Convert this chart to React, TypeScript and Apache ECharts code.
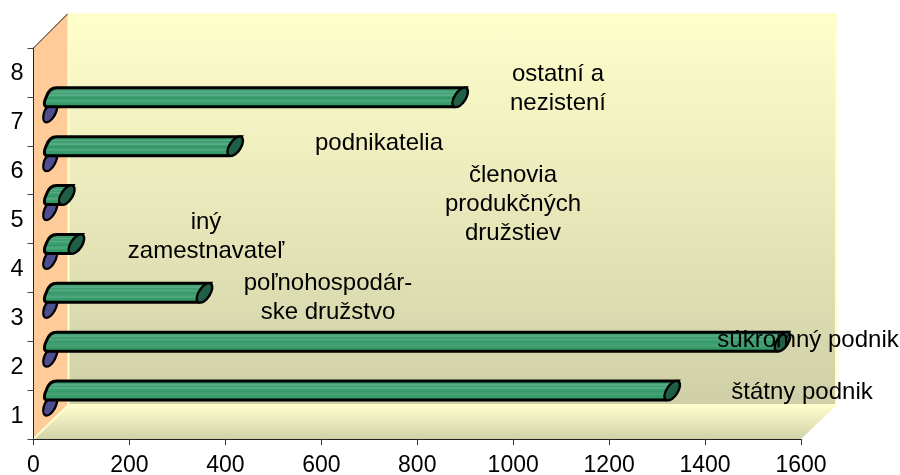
import React, { useEffect, useRef } from "react";
import * as echarts from "echarts";

const categories = ["1", "2", "3", "4", "5", "6", "7", "8"];
const values = [1295, 1525, 320, 53, 33, 384, 853];
const xMin = 0;
const xMax = 1600;
const xStep = 200;
const noteTexts = [
  "štátny podnik",
  "súkromný podnik",
  "poľnohospodár-\nske družstvo",
  "iný\nzamestnavateľ",
  "členovia\nprodukčných\ndružstiev",
  "podnikatelia",
  "ostatní a\nnezistení",
];
const notePositions = [
  [802, 390],
  [808, 338],
  [328, 296],
  [206, 235],
  [513, 202],
  [379, 141],
  [558, 87],
];

const FONT = '"Liberation Sans", Arial, sans-serif';
const G = { left: 33.5, right: 801, top: 48, bottom: 439 };
const D = { x: 34, y: 35 };

const stripes = (() => {
  const seq = ["#339966", "#3f9f72", "#55ab83", "#3f9f72", "#55ab83", "#3f9f72", "#339966", "#3f9f72", "#4ba57b", "#399c6c", "#339966", "#2f8f60"];
  const stops: any[] = [];
  seq.forEach((c, i) => {
    stops.push({ offset: i / seq.length, color: c });
    stops.push({ offset: (i + 1) / seq.length, color: c });
  });
  return new echarts.graphic.LinearGradient(0, 0, 0, 1, stops);
})();

function renderBar(_: any, api: any) {
  const v = api.value(0);
  const idx = api.value(1);
  const [x0, yb] = api.coord([0, idx]);
  const xe = api.coord([v, idx])[0] + 17.5;
  const yc = yb - 24;
  const top = yc - 9.5;
  const bot = yc + 9.5;
  const lb = x0 + 11;
  const lt = x0 + 22;
  const capT = xe + 6;
  const capB = xe - 6;
  const body = `M ${capB} ${bot} L ${lb + 3} ${bot} C ${lb - 1} ${bot} ${lb - 1} ${yc + 5} ${lb + 2} ${yc - 1} C ${lb + 4} ${top + 3} ${lt - 3} ${top} ${lt + 1} ${top} L ${capT} ${top} Z`;
  const cap = `M ${capB} ${bot} C ${capB + 7} ${bot + 3} ${capT + 6} ${yc - 5} ${capT} ${top} C ${capT - 7} ${top - 2} ${capB - 6} ${yc + 5} ${capB} ${bot} Z`;
  const tx = x0;
  const tail = `M ${tx + 24} ${yb - 15} C ${tx + 23} ${yb - 6} ${tx + 17} ${yb + 1} ${tx + 13} ${yb + 1} C ${tx + 8} ${yb + 1} ${tx + 9} ${yb - 9} ${tx + 14} ${yb - 15} Z`;
  return {
    type: "group",
    children: [
      { type: "path", shape: { pathData: tail }, style: { fill: "#4d4d8f", stroke: "#000", lineWidth: 2.2 } },
      { type: "path", shape: { pathData: body }, style: { fill: stripes, stroke: "#000", lineWidth: 3 } },
      { type: "path", shape: { pathData: cap }, style: { fill: "#1f5f45", stroke: "#000", lineWidth: 2.4 } },
    ],
  };
}

export default function App() {
  const ref = useRef<HTMLDivElement>(null);
  useEffect(() => {
    const chart = echarts.init(ref.current!, null, { renderer: "svg" });
    const wallFill = new echarts.graphic.LinearGradient(0, 0, 0, 1, [
      { offset: 0, color: "#ffffcc" },
      { offset: 1, color: "#d0d0a8" },
    ]);
    const floorFill = new echarts.graphic.LinearGradient(0, 0, 0, 1, [
      { offset: 0, color: "#ffffcc" },
      { offset: 1, color: "#d2d2aa" },
    ]);
    const bx = G.left + D.x;
    const bxr = G.right + D.x;
    const ty = G.top - D.y;
    const by = G.bottom - D.y;
    const walls: any[] = [
      { type: "rect", z: -1, silent: true, shape: { x: bx, y: ty, width: bxr + 2 - bx, height: by - ty + 1 }, style: { fill: "#ffffcc" } },
      { type: "rect", z: -1, silent: true, shape: { x: bx + 2, y: ty, width: bxr - bx - 2, height: by - ty }, style: { fill: wallFill } },
      { type: "polygon", z: -1, silent: true, shape: { points: [[G.left, G.bottom], [bx + 2, by + 1], [bxr + 2, by + 1], [G.right, G.bottom]] }, style: { fill: floorFill } },
      { type: "polygon", z: -1, silent: true, shape: { points: [[G.left, G.top], [bx, ty], [bx, by + 1], [G.left, G.bottom]] }, style: { fill: "#ffcc99" } },
      { type: "line", z: -1, silent: true, shape: { x1: G.left, y1: G.bottom, x2: bx + 1, y2: by + 1 }, style: { stroke: "#ffffcc", lineWidth: 2 } },
      { type: "line", z: 1, silent: true, shape: { x1: G.left, y1: G.top, x2: bx, y2: ty + 1 }, style: { stroke: "#222", lineWidth: 1 } },
    ];
    const notes = noteTexts.map((t, i) => ({
      type: "text",
      z: 100,
      silent: true,
      x: notePositions[i][0],
      y: notePositions[i][1],
      style: {
        text: t,
        fill: "#000",
        font: `24px ${FONT}`,
        lineHeight: 29,
        align: "center",
        verticalAlign: "middle",
      },
    }));
    chart.setOption({
      animation: false,
      grid: {
        left: G.left,
        top: G.top,
        width: G.right - G.left,
        height: G.bottom - G.top,
        containLabel: false,
        outerBoundsMode: "none",
      },
      xAxis: {
        type: "value",
        min: xMin,
        max: xMax,
        interval: xStep,
        splitLine: { show: false },
        axisLine: { show: true, lineStyle: { color: "#222", width: 1 } },
        axisTick: { show: true, length: 6, lineStyle: { color: "#333", width: 1 } },
        axisLabel: { fontFamily: FONT, fontSize: 23, color: "#000", margin: 13, formatter: (v: number) => String(v) },
      },
      yAxis: {
        type: "category",
        data: categories,
        axisLine: { show: true, onZero: false, lineStyle: { color: "#222", width: 1 } },
        axisTick: { show: true, length: 6, lineStyle: { color: "#444", width: 1 } },
        axisLabel: { fontFamily: FONT, fontSize: 23.5, color: "#000", margin: 10 },
      },
      graphic: { elements: [...walls, ...notes] },
      series: [
        {
          type: "custom",
          clip: false,
          renderItem: renderBar,
          encode: { x: 0, y: 1 },
          data: values.map((v, i) => [v, i]),
          z: 5,
        },
      ],
    });
    return () => chart.dispose();
  }, []);
  return <div ref={ref} style={{ position: "fixed", left: 0, top: 0, width: 900, height: 475 }} />;
}
